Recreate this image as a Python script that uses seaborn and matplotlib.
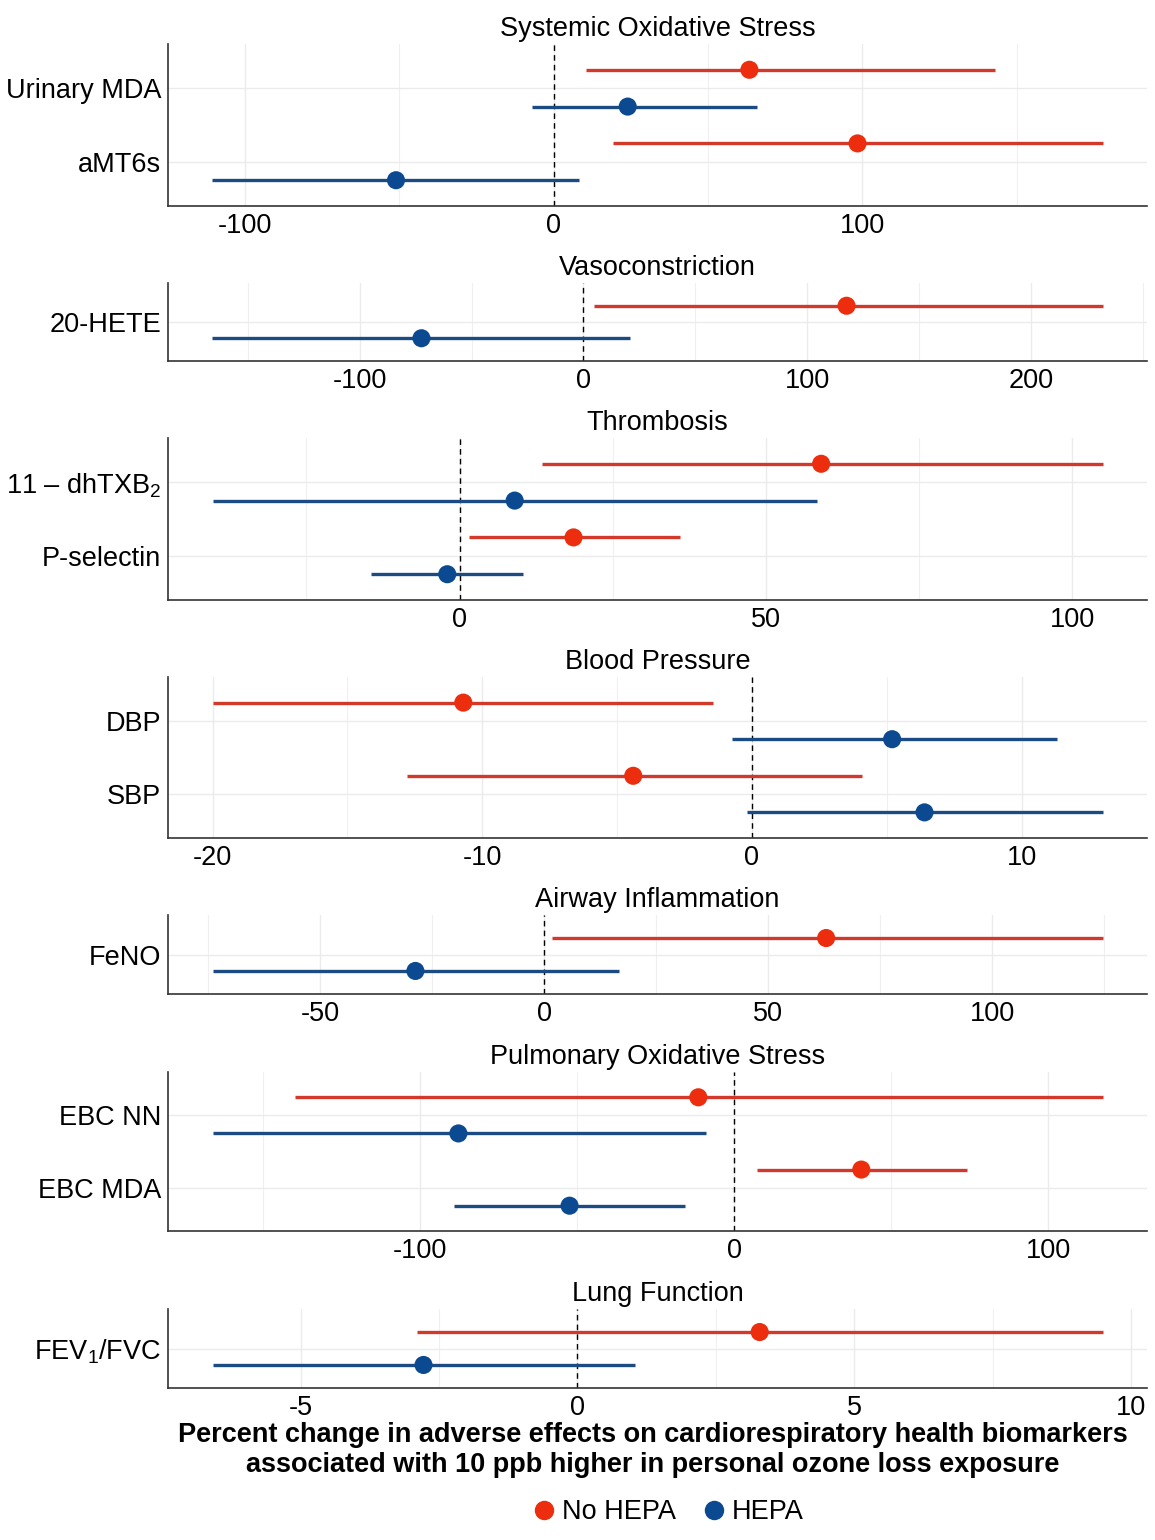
import matplotlib
matplotlib.use("Agg")
import matplotlib.pyplot as plt
from matplotlib.lines import Line2D
from matplotlib.ticker import MultipleLocator
import numpy as np
import pandas as pd
import seaborn as sns

# ---- data (percent change, 95% CI) ----
panel_order = ["Systemic Oxidative Stress", "Vasoconstriction", "Thrombosis",
               "Blood Pressure", "Airway Inflammation",
               "Pulmonary Oxidative Stress", "Lung Function"]
biomarkers = ["Urinary MDA", "aMT6s", "20-HETE", "11 \u2013 dhTXB$_2$", "P-selectin",
              "DBP", "SBP", "FeNO", "EBC NN", "EBC MDA", "FEV$_1$/FVC"]
panels = ["Systemic Oxidative Stress", "Systemic Oxidative Stress", "Vasoconstriction",
          "Thrombosis", "Thrombosis", "Blood Pressure", "Blood Pressure",
          "Airway Inflammation", "Pulmonary Oxidative Stress",
          "Pulmonary Oxidative Stress", "Lung Function"]

nohepa_est = [63.4, 98.4, 117.6, 59.0, 18.6, -10.7, -4.4, 62.9, -11.5, 40.4, 3.29]
nohepa_lo = [10.4, 19.1, 4.5, 13.4, 1.5, -20.0, -12.8, 1.6, -139.8, 7.3, -2.89]
nohepa_hi = [143.0, 177.7, 232.0, 104.9, 35.9, -1.45, 4.1, 124.6, 117.2, 73.9, 9.48]
hepa_est = [24.0, -51.0, -72.4, 9.0, -2.0, 5.2, 6.4, -28.8, -87.9, -52.5, -2.78]
hepa_lo = [-7.0, -110.4, -165.8, -40.3, -14.5, -0.74, -0.19, -74.1, -166.2, -89.2, -6.59]
hepa_hi = [65.7, 8.4, 21.0, 58.4, 10.4, 11.3, 13.0, 16.7, -8.9, -15.6, 1.03]

groups = ["No HEPA", "HEPA"]
tick_steps = [100, 100, 50, 10, 50, 100, 5]

df = pd.concat([
    pd.DataFrame({"panel": panels, "biomarker": biomarkers, "group": "No HEPA",
                  "est": nohepa_est, "lo": nohepa_lo, "hi": nohepa_hi}),
    pd.DataFrame({"panel": panels, "biomarker": biomarkers, "group": "HEPA",
                  "est": hepa_est, "lo": hepa_lo, "hi": hepa_hi}),
], ignore_index=True)

point_colors = {"No HEPA": "#EC2D0E", "HEPA": "#0B4A90"}
line_colors = {"No HEPA": "#D2392B", "HEPA": "#1B4B82"}
dodge = {"No HEPA": -0.25, "HEPA": 0.25}

sns.set_theme(style="whitegrid")
plt.rcParams["font.family"] = ["Liberation Sans", "DejaVu Sans"]
plt.rcParams["mathtext.fontset"] = "custom"
plt.rcParams["mathtext.rm"] = "Liberation Sans"
plt.rcParams["mathtext.it"] = "Liberation Sans:italic"
plt.rcParams["axes.unicode_minus"] = False
plt.rcParams["text.color"] = "black"

W, H = 1155, 1540
fig = plt.figure(figsize=(W / 100, H / 100), dpi=100)

# panel extents in pixels (top, bottom)
extents = [(44, 206), (283, 361), (438, 600), (677, 838),
           (915, 994), (1072, 1231), (1309, 1388)]
left_px, right_px = 168, 1147
fs = 19.5

for title, (top, bot), step in zip(panel_order, extents, tick_steps):
    ax = fig.add_axes([left_px / W, 1 - bot / H, (right_px - left_px) / W, (bot - top) / H])
    sub = df[df["panel"] == title].copy()
    cats = list(dict.fromkeys(sub["biomarker"]))
    sub["ypos"] = sub["biomarker"].map({c: i for i, c in enumerate(cats)}) + sub["group"].map(dodge)

    for g in groups:
        s = sub[sub["group"] == g]
        ax.hlines(s["ypos"], s["lo"], s["hi"], color=line_colors[g], lw=2.4, zorder=2)
    sns.scatterplot(data=sub, x="est", y="ypos", hue="group", hue_order=groups,
                    palette=point_colors, s=170, edgecolor="none", legend=False,
                    ax=ax, zorder=3)
    ax.axvline(0, color="black", lw=1.0, ls=(0, (4, 3)), zorder=1.5)

    lo, hi = sub["lo"].min(), sub["hi"].max()
    pad = 0.05 * (hi - lo)
    ax.set_xlim(lo - pad, hi + pad)
    ax.set_ylim(len(cats) - 1 + 0.6, -0.6)
    ax.set_yticks(range(len(cats)))
    ax.set_yticklabels(cats)
    ax.xaxis.set_major_locator(MultipleLocator(step))
    ax.xaxis.set_minor_locator(MultipleLocator(step / 2))
    ax.grid(which="major", color="#EBEBEB", lw=1.0)
    ax.grid(which="minor", axis="x", color="#F0F0F0", lw=0.8)
    ax.set_xlabel("")
    ax.set_ylabel("")
    ax.set_title(title, fontsize=fs, pad=6, color="black")
    for side in ["top", "right"]:
        ax.spines[side].set_visible(False)
    for side in ["left", "bottom"]:
        ax.spines[side].set_color("#333333")
        ax.spines[side].set_linewidth(1.2)
    ax.tick_params(axis="both", which="major", labelsize=fs, length=3, width=1,
                   color="#333333", pad=2, labelcolor="black")
    ax.tick_params(axis="x", which="minor", length=0)
    ax.set_facecolor("white")

fig.text(653 / W, 1 - 1450 / H,
         "Percent change in adverse effects on cardiorespiratory health biomarkers\n"
         "associated with 10 ppb higher in personal ozone loss exposure",
         ha="center", va="center", fontsize=fs, fontweight="bold", linespacing=1.15,
         color="black")

handles = [Line2D([], [], marker="o", ls="none", markersize=14,
                  markerfacecolor=point_colors[g], markeredgecolor="none", label=g)
           for g in groups]
fig.legend(handles=handles, loc="center", bbox_to_anchor=(667 / W, 1 - 1512 / H),
           ncol=2, frameon=False, fontsize=fs, handletextpad=0.15, columnspacing=0.9,
           handlelength=1.0)

fig.savefig("out.png", dpi=100, facecolor="white")
